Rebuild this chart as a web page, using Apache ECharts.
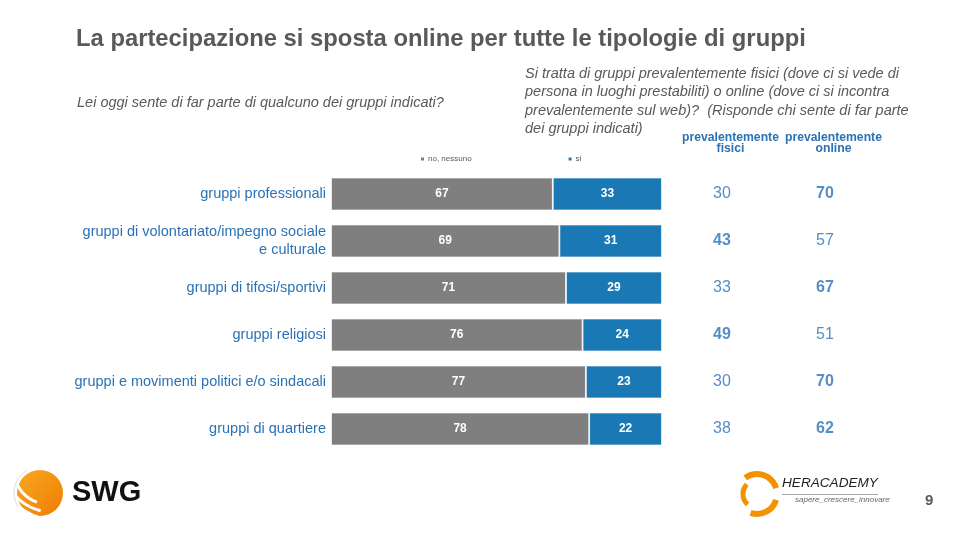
<!DOCTYPE html>
<html><head><meta charset="utf-8">
<script src="https://cdn.jsdelivr.net/npm/echarts@6/dist/echarts.min.js"></script>
<style>html,body{margin:0;padding:0;background:#fff}#c{width:960px;height:540px}</style>
</head><body><div id="c"></div>
<script>
const categories = ['gruppi professionali','gruppi di volontariato/impegno sociale\ne culturale','gruppi di tifosi/sportivi','gruppi religiosi','gruppi e movimenti politici e/o sindacali','gruppi di quartiere'];
const noValues = [67,69,71,76,77,78];
const siValues = [33,31,29,24,23,22];
const fisiciValues = [30,43,33,49,30,38];
const onlineValues = [70,57,67,51,70,62];
const fisiciBold = [0,1,0,1,0,0];
const onlineBold = [1,0,1,0,1,1];
const columnLabels = ['prevalentemente\nfisici','prevalentemente\nonline'];

const blue = '#1a78b4';
const textBlue = '#2a72b5';
const cats = categories.slice().reverse();
const rev = a => a.slice().reverse();

const fis = rev(fisiciValues), onl = rev(onlineValues);
const fisB = rev(fisiciBold), onlB = rev(onlineBold);
const tableData = [];
for (let i = 0; i < cats.length; i++) {
  tableData.push([0, i, fis[i], fisB[i]]);
  tableData.push([1, i, onl[i], onlB[i]]);
}

const chart = echarts.init(document.getElementById('c'));
chart.setOption({
  animation:false,
  textStyle:{fontFamily:'Liberation Sans, Arial'},
  title:[
    {text:'La partecipazione si sposta online per tutte le tipologie di gruppi',left:71,top:22,textStyle:{fontSize:23.8,fontWeight:'bold',color:'#595959'}},
    {text:'Lei oggi sente di far parte di qualcuno dei gruppi indicati?',left:72,top:90,textStyle:{fontSize:14.5,fontStyle:'italic',fontWeight:'normal',color:'#595959'}},
    {text:'Si tratta di gruppi prevalentemente fisici (dove ci si vede di\npersona in luoghi prestabiliti) o online (dove ci si incontra\nprevalentemente sul web)?  (Risponde chi sente di far parte\ndei gruppi indicati)',left:520,top:60,textStyle:{fontSize:14.5,fontStyle:'italic',fontWeight:'normal',color:'#595959',lineHeight:18.3}},
    {text:'9',left:920,top:488,textStyle:{fontSize:15,fontWeight:'bold',color:'#595959'}}
  ],
  legend:{top:150,left:414,itemWidth:5,itemHeight:5,itemGap:95,icon:'rect',textStyle:{fontSize:8,color:'#595959',padding:[0,0,0,-2]},data:['no, nessuno','si']},
  grid:[
    {left:331,top:170.5,width:331,height:282},
    {left:670.5,top:170.5,width:206,height:282}
  ],
  xAxis:[
    {gridIndex:0,type:'value',min:0,max:100,show:false},
    {gridIndex:1,type:'category',data:columnLabels,position:'top',axisLine:{show:false},axisTick:{show:false},
     axisLabel:{interval:0,margin:16,fontSize:12.2,fontWeight:'bold',color:textBlue,lineHeight:11.5,padding:[0,0,0,17]}}
  ],
  yAxis:[
    {gridIndex:0,type:'category',data:cats,axisLine:{show:false},axisTick:{show:false},
     axisLabel:{margin:5,fontSize:14.5,color:textBlue,lineHeight:18.5,align:'right'}},
    {gridIndex:1,type:'category',data:cats,show:false}
  ],
  series:[
    {name:'no, nessuno',type:'bar',stack:'a',data:rev(noValues),barWidth:33,itemStyle:{color:'#7f7f7f',borderColor:'#fff',borderWidth:0.8},
     label:{show:true,position:'inside',color:'#fff',fontWeight:'bold',fontSize:12}},
    {name:'si',type:'bar',stack:'a',data:rev(siValues),barWidth:33,itemStyle:{color:blue,borderColor:'#fff',borderWidth:0.8},
     label:{show:true,position:'inside',color:'#fff',fontWeight:'bold',fontSize:12}},
    {type:'scatter',xAxisIndex:1,yAxisIndex:1,symbolSize:0,data:tableData,
     encode:{x:0,y:1},
     label:{show:true,position:'inside',
       formatter:p=> p.value[3] ? '{b|'+p.value[2]+'}' : '{n|'+p.value[2]+'}',
       rich:{b:{fontSize:16,fontWeight:'bold',color:textBlue},n:{fontSize:16,fontWeight:'normal',color:textBlue}}}}
  ],
  graphic:[
    {type:'circle',shape:{cx:40,cy:493,r:23},style:{fill:new echarts.graphic.LinearGradient(0,0,1,1,[{offset:0,color:'#f9a825'},{offset:1,color:'#ef7d00'}])}},
    {type:'arc',shape:{cx:48,cy:470,r:34,startAngle:1.9,endAngle:2.9},style:{stroke:'#fff',lineWidth:3,fill:null}},
    {type:'arc',shape:{cx:52,cy:462,r:50,startAngle:1.8,endAngle:2.7},style:{stroke:'#fff',lineWidth:3,fill:null}},
    {type:'arc',shape:{cx:60,cy:455,r:66,startAngle:1.85,endAngle:2.45},style:{stroke:'#fff',lineWidth:3,fill:null}},
    {type:'arc',shape:{cx:40,cy:493,r:26,startAngle:2.6,endAngle:4.2},style:{stroke:'#ddd',lineWidth:1,fill:null}},
    {type:'text',left:72,top:478,style:{text:'SWG',fontSize:29,fontWeight:'bold',fill:'#111',fontFamily:'Liberation Sans, Arial'}},
    {type:'arc',shape:{cx:757,cy:494,r:20,startAngle:-2.2,endAngle:-0.3},style:{stroke:'#f39200',lineWidth:6,fill:null}},
    {type:'arc',shape:{cx:757,cy:494,r:20,startAngle:0.3,endAngle:1.9},style:{stroke:'#f39200',lineWidth:6,fill:null}},
    {type:'arc',shape:{cx:757,cy:494,r:14,startAngle:2.3,endAngle:3.9},style:{stroke:'#f39200',lineWidth:5,fill:null}},
    {type:'text',left:782,top:476,style:{text:'HERACADEMY',fontSize:13.6,fontStyle:'italic',fill:'#222',fontFamily:'Liberation Sans, Arial'}},
    {type:'rect',shape:{x:782,y:494,width:96,height:0.8},style:{fill:'#888'}},
    {type:'text',left:795,top:496,style:{text:'sapere_crescere_innovare',fontSize:8,fontStyle:'italic',fill:'#666',fontFamily:'Liberation Sans, Arial'}}
  ]
});
</script></body></html>
